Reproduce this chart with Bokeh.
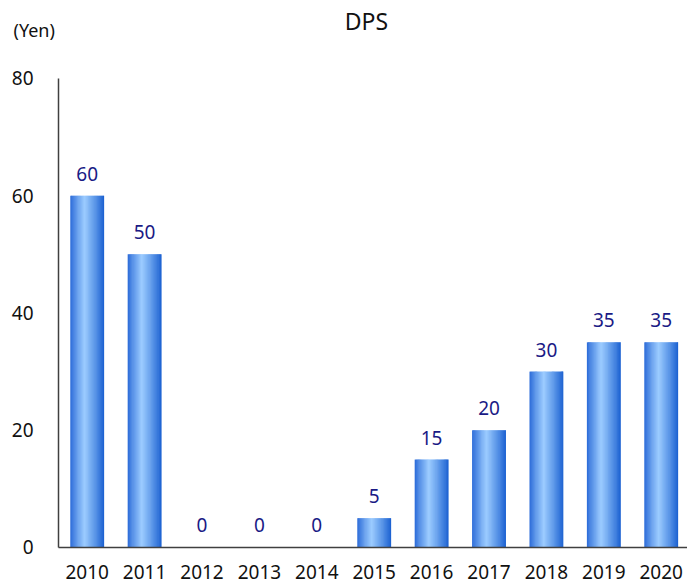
from bokeh.plotting import figure
from bokeh.models import FixedTicker, Range1d, Label, ColumnDataSource
from bokeh.core.properties import value
from bokeh.embed import file_html
from bokeh.resources import INLINE

years = ["2010", "2011", "2012", "2013", "2014", "2015", "2016", "2017", "2018", "2019", "2020"]
dps = [60, 50, 0, 0, 0, 5, 15, 20, 30, 35, 35]
y_ticks = [0, 20, 40, 60, 80]
title_text = "DPS"
unit_text = "(Yen)"

FONT = "Noto Sans"

# frame spans the whole canvas; axes are fixed and bounded to the data area
p = figure(width=687, height=587, output_backend="svg", toolbar_location=None,
           x_range=Range1d(-1.5105, 10.458), y_range=Range1d(-6.823, 93.3),
           min_border_left=0, min_border_right=0, min_border_top=0, min_border_bottom=0)
p.title.visible = False
p.grid.visible = False
p.outline_line_color = None

# gradient bars built from thin strips
bar_w = 0.59
n = 30
light = (0x9c, 0xcc, 0xff)
dark_l = (0x2a, 0x6a, 0xd8)
dark_r = (0x18, 0x5e, 0xd0)
peak = 0.42
lefts, rights, tops, cols = [], [], [], []
strip = bar_w / n
for j in range(n):
    t = (j + 0.5) / n
    if t < peak:
        f = t / peak
        c0 = dark_l
    else:
        f = 1 - (t - peak) / (1 - peak)
        c0 = dark_r
    f = f ** 0.9
    col = "#%02x%02x%02x" % tuple(int(round(a + (b - a) * f)) for a, b in zip(c0, light))
    for i, v in enumerate(dps):
        l = i - bar_w / 2 + j * strip
        r = l + strip + (0.012 if j < n - 1 else 0)
        lefts.append(l)
        rights.append(r)
        tops.append(v)
        cols.append(col)
src = ColumnDataSource(dict(left=lefts, right=rights, top=tops, bottom=[0] * len(tops), color=cols))
p.quad(left="left", right="right", top="top", bottom="bottom", source=src,
       fill_color="color", line_color=None)

lab = ColumnDataSource(dict(x=list(range(len(years))), y=dps, t=[str(v) for v in dps]))
p.text(x="x", y="y", text="t", source=lab, text_align="center", text_baseline="middle",
       y_offset=-22, text_font_size="19px", text_color="#1a1a85", text_font=value(FONT))

p.yaxis.ticker = FixedTicker(ticks=y_ticks)
p.yaxis.fixed_location = -0.5
p.yaxis.bounds = (0, 80)
p.xaxis.ticker = FixedTicker(ticks=list(range(len(years))))
p.xaxis.fixed_location = 0
p.xaxis.bounds = (-0.5, 10.458)
p.xaxis.major_label_overrides = {i: y for i, y in enumerate(years)}
for ax in (p.xaxis, p.yaxis):
    ax.axis_line_color = "#404040"
    ax.axis_line_width = 1.5
    ax.major_tick_line_color = None
    ax.minor_tick_line_color = None
    ax.major_tick_out = 0
    ax.major_tick_in = 0
    ax.major_label_text_font = FONT
    ax.major_label_text_font_size = "19px"
    ax.major_label_text_color = "#111111"
p.yaxis.major_label_standoff = 25
p.xaxis.major_label_standoff = 18

p.add_layout(Label(x=366, y=567, x_units="screen", y_units="screen", text=title_text,
                   text_font=FONT, text_font_size="23px", text_color="#111111",
                   text_align="center", text_baseline="middle"))
p.add_layout(Label(x=13, y=558, x_units="screen", y_units="screen", text=unit_text,
                   text_font=FONT, text_font_size="18px", text_color="#111111",
                   text_baseline="middle"))

open("out.html", "w").write(file_html(p, INLINE))
